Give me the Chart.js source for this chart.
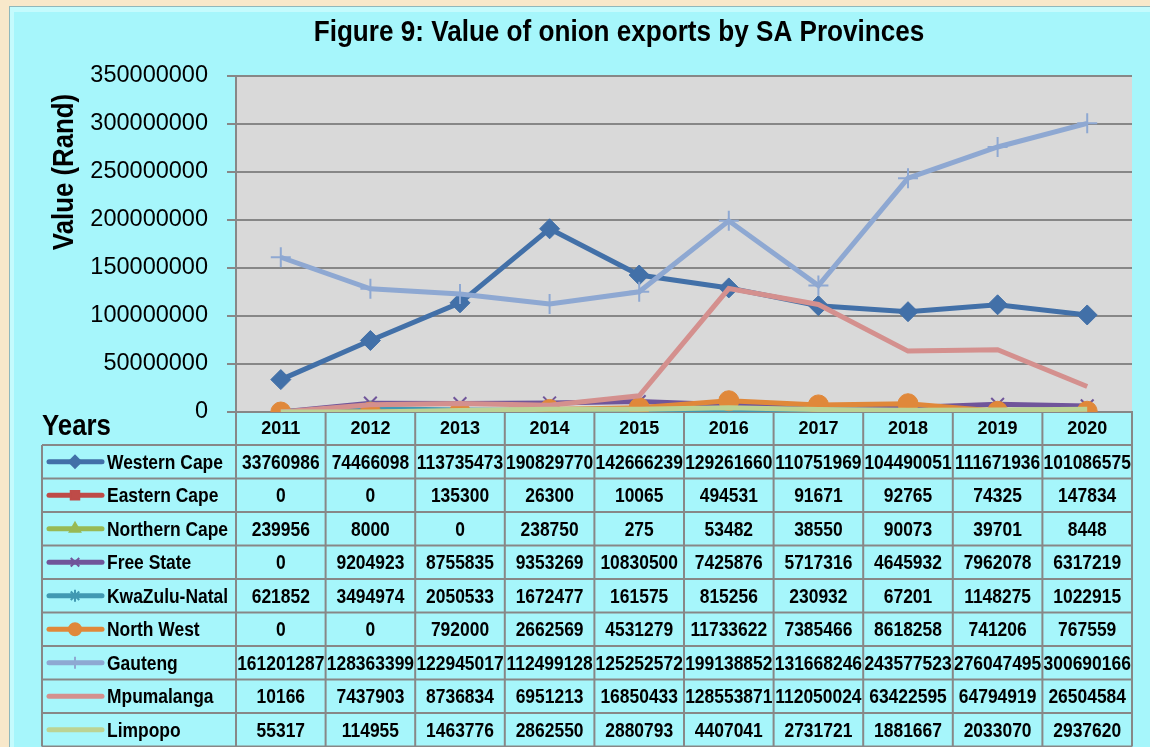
<!DOCTYPE html>
<html>
<head>
<meta charset="utf-8">
<script src="https://cdn.jsdelivr.net/npm/chart.js@4"></script>
<style>
  html, body { margin: 0; padding: 0; background: #f8e8ca; }
  canvas { display: block; }
</style>
</head>
<body>
<canvas id="chart" width="1150" height="747"></canvas>
<script>
const years = ["2011", "2012", "2013", "2014", "2015", "2016", "2017", "2018", "2019", "2020"];

const westernCape = [33760986, 74466098, 113735473, 190829770, 142666239, 129261660, 110751969, 104490051, 111671936, 101086575];
const easternCape = [0, 0, 135300, 26300, 10065, 494531, 91671, 92765, 74325, 147834];
const northernCape = [239956, 8000, 0, 238750, 275, 53482, 38550, 90073, 39701, 8448];
const freeState = [0, 9204923, 8755835, 9353269, 10830500, 7425876, 5717316, 4645932, 7962078, 6317219];
const kwaZuluNatal = [621852, 3494974, 2050533, 1672477, 161575, 815256, 230932, 67201, 1148275, 1022915];
const northWest = [0, 0, 792000, 2662569, 4531279, 11733622, 7385466, 8618258, 741206, 767559];
const gauteng = [161201287, 128363399, 122945017, 112499128, 125252572, 199138852, 131668246, 243577523, 276047495, 300690166];
const mpumalanga = [10166, 7437903, 8736834, 6951213, 16850433, 128553871, 112050024, 63422595, 64794919, 26504584];
const limpopo = [55317, 114955, 1463776, 2862550, 2880793, 4407041, 2731721, 1881667, 2033070, 2937620];

const provinces = ["Western Cape", "Eastern Cape", "Northern Cape", "Free State", "KwaZulu-Natal", "North West", "Gauteng", "Mpumalanga", "Limpopo"];
const seriesData = [westernCape, easternCape, northernCape, freeState, kwaZuluNatal, northWest, gauteng, mpumalanga, limpopo];

// excel 2007 style markers
const colors = ["#4270a8", "#be4b48", "#98b954", "#70559a", "#4199b2", "#e0883a", "#8ea8d2", "#d4908e", "#bcd394"];
const markers = ["rectRot", "rect", "triangle", "crossRot", "star", "circle", "cross", false, false];
const markerSize = [10, 8, 9, 9, 8, 10, 10, 0, 0];

const FONT = "'Liberation Sans', Arial, sans-serif";
Chart.defaults.font.family = FONT;
Chart.defaults.color = "#000";

const gridGrey = "#878787";

// no narrow font installed, so squeeze the text horizontally
function narrowText(ctx, text, x, y, sx, align) {
  ctx.save();
  ctx.translate(x, y);
  ctx.scale(sx, 1);
  ctx.textAlign = align;
  ctx.fillText(text, 0, 0);
  ctx.restore();
}

const backgroundPlugin = {
  id: "background",
  beforeDraw(chart) {
    const { ctx, chartArea } = chart;
    ctx.save();
    ctx.fillStyle = "#f8e8ca";
    ctx.fillRect(0, 0, chart.width, chart.height);
    // cyan panel with a little bevel
    ctx.fillStyle = "#8fb8bc";
    ctx.fillRect(9, 6, chart.width - 9, chart.height - 6);
    ctx.fillStyle = "#c4fbfd";
    ctx.fillRect(10, 7, chart.width - 10, chart.height - 7);
    ctx.fillStyle = "#a6f6fb";
    ctx.fillRect(14, 12, chart.width - 14, chart.height - 12);
    // plot area
    ctx.fillStyle = "#d9d9d9";
    ctx.fillRect(chartArea.left, chartArea.top, chartArea.right - chartArea.left, chartArea.bottom - chartArea.top);
    ctx.restore();
  },
};

const tablePlugin = {
  id: "dataTable",
  afterDraw(chart) {
    const { ctx, chartArea } = chart;
    const x = chart.scales.x;
    const colW = (chartArea.right - chartArea.left) / years.length;
    const tableLeft = 42;
    const firstRow = chartArea.bottom + 33;
    const rowH = 33.5;
    const tableBottom = firstRow + rowH * provinces.length;

    ctx.save();

    // titles
    ctx.fillStyle = "#000";
    ctx.textBaseline = "middle";
    ctx.font = "bold 30px " + FONT;
    narrowText(ctx, "Figure 9: Value of onion exports by SA Provinces", 619, 33, 0.87, "center");

    ctx.save();
    ctx.translate(65, 172);
    ctx.rotate(-Math.PI / 2);
    narrowText(ctx, "Value (Rand)", 0, 0, 0.86, "center");
    ctx.restore();

    narrowText(ctx, "Years", 42, 427, 0.86, "left");

    // grid of the table
    ctx.strokeStyle = gridGrey;
    ctx.lineWidth = 2;
    ctx.beginPath();
    for (let k = 0; k <= years.length; k++) {
      const gx = chartArea.left + k * colW;
      ctx.moveTo(gx, chartArea.bottom);
      ctx.lineTo(gx, tableBottom);
    }
    ctx.moveTo(tableLeft, firstRow);
    ctx.lineTo(tableLeft, tableBottom);
    for (let r = 0; r <= provinces.length; r++) {
      const gy = firstRow + r * rowH;
      ctx.moveTo(tableLeft, gy);
      ctx.lineTo(chartArea.right, gy);
    }
    ctx.stroke();

    // rows
    provinces.forEach((name, i) => {
      const cy = firstRow + rowH * i + rowH / 2;

      // legend key
      ctx.strokeStyle = colors[i];
      ctx.lineWidth = 5;
      ctx.lineCap = "round";
      ctx.beginPath();
      ctx.moveTo(49, cy);
      ctx.lineTo(102, cy);
      ctx.stroke();
      ctx.lineCap = "butt";
      if (markers[i]) {
        ctx.fillStyle = colors[i];
        ctx.strokeStyle = colors[i];
        ctx.lineWidth = 2;
        Chart.helpers.drawPoint(ctx, { pointStyle: markers[i], radius: 6, borderWidth: 2, rotation: 0 }, 75, cy);
      }

      ctx.fillStyle = "#000";
      ctx.font = "bold 21px " + FONT;
      narrowText(ctx, name, 107, cy + 1, 0.83, "left");

      seriesData[i].forEach((v, j) => {
        narrowText(ctx, String(v), x.getPixelForValue(j), cy + 1, 0.83, "center");
      });
    });

    ctx.restore();
  },
};

const datasets = provinces.map((name, i) => ({
  label: name,
  data: seriesData[i],
  borderColor: colors[i],
  backgroundColor: colors[i],
  borderWidth: 5,
  tension: 0,
  pointStyle: markers[i],
  pointRadius: markerSize[i],
  pointHoverRadius: markerSize[i],
  pointBorderWidth: markers[i] === "cross" || markers[i] === "crossRot" || markers[i] === "star" ? 2 : 1,
  order: provinces.length - i, // later series on top, like Excel
}));

new Chart(document.getElementById("chart"), {
  type: "line",
  data: { labels: years, datasets: datasets },
  options: {
    responsive: false,
    animation: false,
    layout: { padding: { top: 76, right: 18, left: 0, bottom: 0 } },
    plugins: {
      legend: { display: false },
      tooltip: { enabled: false },
    },
    scales: {
      x: {
        offset: true,
        grid: { display: false, drawTicks: false },
        border: { color: gridGrey, width: 2 },
        ticks: { font: { size: 18, weight: "bold" }, color: "#000", padding: 6, maxRotation: 0 },
        afterFit: (scale) => { scale.height = 335; },
      },
      y: {
        min: 0,
        max: 350000000,
        grid: { color: gridGrey, lineWidth: 2, tickLength: 9, tickColor: gridGrey },
        border: { color: gridGrey, width: 2 },
        ticks: {
          stepSize: 50000000,
          font: { size: 23.5 },
          color: "#000",
          padding: 19,
          callback: (value) => String(value),
        },
        afterFit: (scale) => { scale.width = 236; },
      },
    },
  },
  plugins: [backgroundPlugin, tablePlugin],
});
</script>
</body>
</html>
